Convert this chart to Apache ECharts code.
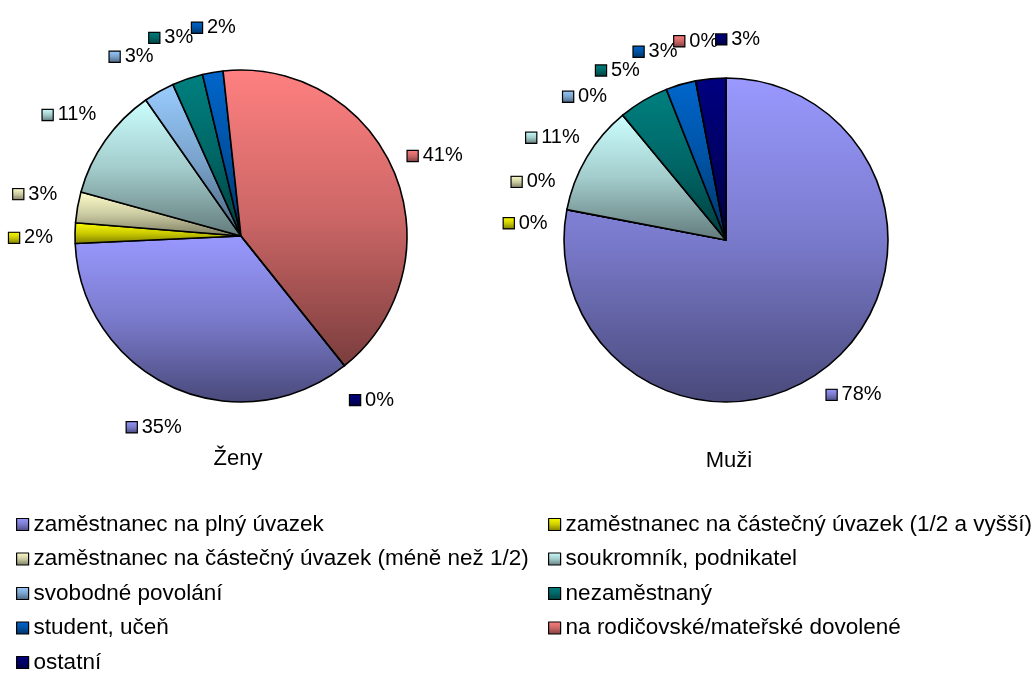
<!DOCTYPE html>
<html>
<head>
<meta charset="utf-8">
<script src="https://cdn.jsdelivr.net/npm/echarts@6/dist/echarts.min.js"></script>
<style>
  html, body { margin: 0; padding: 0; background: #fff; }
  #chart { width: 1034px; height: 683px; }
</style>
</head>
<body>
<div id="chart"></div>
<script>
// kategorie v pořadí legendy
var categories = [
    'zaměstnanec na plný úvazek',
    'zaměstnanec na částečný úvazek (1/2 a vyšší)',
    'zaměstnanec na částečný úvazek (méně než 1/2)',
    'soukromník, podnikatel',
    'svobodné povolání',
    'nezaměstnaný',
    'student, učeň',
    'na rodičovské/mateřské dovolené',
    'ostatní'
];
// hodnoty v %
var zenyValues = [35, 2, 3, 11, 3, 3, 2, 41, 0];
var muziValues = [78, 0, 0, 11, 0, 5, 3, 0, 3];
var pieTitles = ['Ženy', 'Muži'];
var baseColors = ['#9999FF', '#FFFF00', '#FFFFCC', '#CCFFFF', '#99CCFF', '#008080', '#0066CC', '#FF8080', '#000080'];

var FONT = '"Liberation Sans", Arial, sans-serif';

function shade(hex, k) {
    var n = parseInt(hex.slice(1), 16);
    var r = Math.round(((n >> 16) & 255) * k);
    var g = Math.round(((n >> 8) & 255) * k);
    var b = Math.round((n & 255) * k);
    return 'rgb(' + r + ',' + g + ',' + b + ')';
}

// přechod shora dolů přes každou výseč
function grad(hex) {
    return {
        type: 'linear', x: 0, y: 0, x2: 0, y2: 1,
        colorStops: [
            { offset: 0, color: hex },
            { offset: 0.5, color: shade(hex, 0.8) },
            { offset: 1, color: shade(hex, 0.48) }
        ]
    };
}

// pozice popisků: střed výseče, blízké popisky se rozestoupí
function labelSpots(values, startDeg, cx, cy, dist, minSep) {
    var total = 0;
    values.forEach(function (v) { total += v; });
    var acc = 0, ang = [];
    values.forEach(function (v) {
        ang.push(startDeg + (acc + v / 2) / total * 360);
        acc += v;
    });
    for (var it = 0; it < 60; it++) {
        for (var i = 1; i < ang.length; i++) {
            var d = ang[i] - ang[i - 1];
            if (d < minSep) {
                var m = (minSep - d) / 2;
                ang[i] += m;
                ang[i - 1] -= m;
            }
        }
    }
    return ang.map(function (a) {
        var t = a * Math.PI / 180;
        return [cx + dist * Math.sin(t), cy - dist * Math.cos(t)];
    });
}

function pieSeries(name, values, cx, cy, r, startDeg, labelDist) {
    var spots = labelSpots(values, startDeg, cx, cy, r + labelDist, 12);
    return {
        name: name,
        type: 'pie',
        center: [cx, cy],
        radius: r,
        startAngle: 90 - startDeg,
        clockwise: true,
        avoidLabelOverlap: false,
        animation: false,
        itemStyle: { borderColor: '#000', borderWidth: 1.6 },
        label: {
            show: true,
            position: 'outside',
            formatter: '{icon|}{t|{c}%}'
        },
        labelLine: { show: false },
        emphasis: { disabled: true },
        labelLayout: function (p) {
            var s = spots[p.dataIndex];
            return { x: s[0], y: s[1], align: 'center', verticalAlign: 'middle' };
        },
        data: values.map(function (v, i) {
            return {
                name: categories[i],
                value: v,
                itemStyle: { color: grad(baseColors[i]) },
                label: {
                    rich: {
                        icon: {
                            width: 10, height: 10,
                            backgroundColor: grad(baseColors[i]),
                            borderColor: '#000', borderWidth: 1.2
                        },
                        t: {
                            fontFamily: FONT, fontSize: 20, color: '#000',
                            padding: [0, 0, 0, 5]
                        }
                    }
                }
            };
        })
    };
}

var legendBase = {
    orient: 'vertical',
    top: 508,
    icon: 'rect',
    itemWidth: 12,
    itemHeight: 12,
    itemGap: 11.5,
    selectedMode: false,
    itemStyle: { borderColor: '#000', borderWidth: 1.2 },
    textStyle: { fontFamily: FONT, fontSize: 22.5, color: '#000', lineHeight: 22 }
};

var option = {
    backgroundColor: '#fff',
    legend: [
        Object.assign({}, legendBase, {
            left: 11,
            data: [categories[0], categories[2], categories[4], categories[6], categories[8]]
        }),
        Object.assign({}, legendBase, {
            left: 543,
            data: [categories[1], categories[3], categories[5], categories[7]]
        })
    ],
    graphic: [
        {
            type: 'text', x: 238, y: 459,
            style: { text: pieTitles[0], font: '22px ' + FONT, fill: '#000',
                     align: 'center', verticalAlign: 'middle', textAlign: 'center', textVerticalAlign: 'middle' }
        },
        {
            type: 'text', x: 729, y: 461,
            style: { text: pieTitles[1], font: '22px ' + FONT, fill: '#000',
                     align: 'center', verticalAlign: 'middle', textAlign: 'center', textVerticalAlign: 'middle' }
        }
    ],
    series: [
        pieSeries(pieTitles[0], zenyValues, 241, 236, 166, 141.4, 44),
        pieSeries(pieTitles[1], muziValues, 726, 240, 162, 0, 39)
    ]
};

var chart = echarts.init(document.getElementById('chart'), null, { renderer: 'canvas' });
chart.setOption(option);
</script>
</body>
</html>
